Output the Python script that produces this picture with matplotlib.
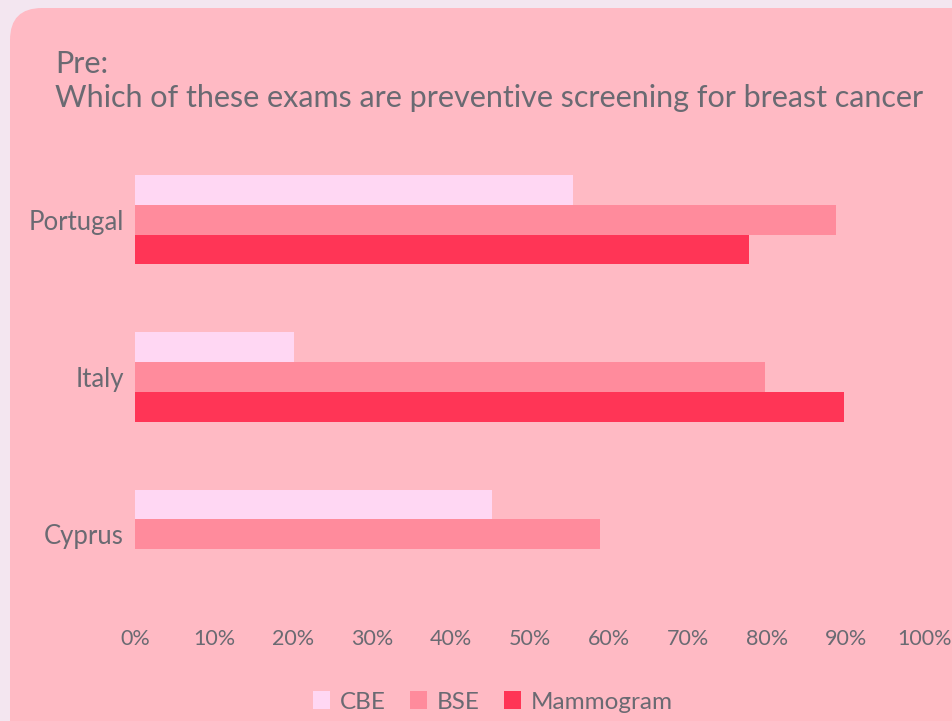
import numpy as np
import matplotlib.pyplot as plt
from matplotlib.patches import FancyBboxPatch, Patch
from matplotlib.ticker import PercentFormatter

# data
countries = ["Cyprus", "Italy", "Portugal"]
cbe = [45.2, 20.1, 55.4]
bse = [58.8, 79.8, 88.7]
mammogram = [0, 89.8, 77.7]
x_ticks = [0, 10, 20, 30, 40, 50, 60, 70, 80, 90, 100]

title_text = "Pre:\nWhich of these exams are preventive screening for breast cancer"

bg_outer = "#f3e6f0"
bg_panel = "#ffbac4"
c_cbe = "#ffd7f3"
c_bse = "#ff8b9c"
c_mam = "#ff3556"
txt = "#6a6a72"

plt.rcParams["font.family"] = ["Lato", "DejaVu Sans"]

W, H = 953, 721
fig = plt.figure(figsize=(W / 100, H / 100), dpi=100)
fig.patch.set_facecolor(bg_outer)

# rounded panel drawn in pixel coordinates
bg = fig.add_axes([0, 0, 1, 1], zorder=0)
bg.set_xlim(0, W)
bg.set_ylim(H, 0)
bg.axis("off")
bg.add_patch(FancyBboxPatch((10, 8), 1000, 800,
                            boxstyle="round,pad=0,rounding_size=32",
                            facecolor=bg_panel, edgecolor="none"))

# main axes: left 135px, right 925px, top 155px, bottom 610px
left, right, top, bottom = 135, 925, 155, 610
ax = fig.add_axes([left / W, 1 - bottom / H, (right - left) / W, (bottom - top) / H], zorder=1)
ax.set_facecolor("none")

y = np.arange(len(countries))
h = 0.19
ax.barh(y + h, cbe, height=h, color=c_cbe, label="CBE")
ax.barh(y, bse, height=h, color=c_bse, label="BSE")
ax.barh(y - h, mammogram, height=h, color=c_mam, label="Mammogram")

ax.set_xlim(0, 100)
ax.set_ylim(-0.48, 2.41)
ax.set_xticks(x_ticks)
ax.xaxis.set_major_formatter(PercentFormatter(decimals=0))
ax.set_yticks(y)
ax.set_yticklabels(countries)
ax.tick_params(axis="x", length=0, pad=14, labelsize=15.5, labelcolor=txt)
ax.tick_params(axis="y", length=0, pad=8, labelsize=18.5, labelcolor=txt)
for s in ax.spines.values():
    s.set_visible(False)

fig.text(55 / W, 1 - 50 / H, title_text, ha="left", va="top",
         fontsize=22, color=txt, linespacing=1.27)

handles = [Patch(facecolor=c_cbe, label="CBE"),
           Patch(facecolor=c_bse, label="BSE"),
           Patch(facecolor=c_mam, label="Mammogram")]
fig.legend(handles=handles, loc="center", bbox_to_anchor=(493 / W, 1 - 702 / H),
           ncol=3, frameon=False, fontsize=17.5, labelcolor=txt,
           handlelength=0.7, handleheight=0.7, handletextpad=0.4, columnspacing=1.0)

fig.savefig("out.png", dpi=100, facecolor=bg_outer)
